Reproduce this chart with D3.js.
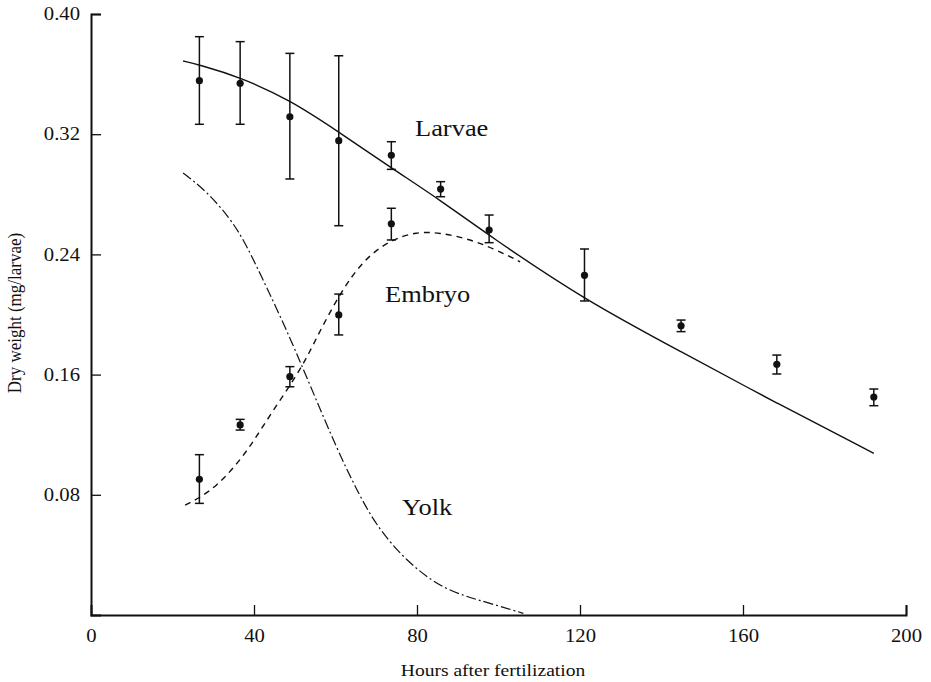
<!DOCTYPE html>
<html>
<head>
<meta charset="utf-8">
<script src="https://cdn.jsdelivr.net/npm/d3@7"></script>
<style>
  body { margin: 0; background: #fff; }
  svg text { font-family: "Liberation Serif", "Times New Roman", Tinos, serif !important; fill: #111; }
</style>
</head>
<body>
<svg width="931" height="682"></svg>
<script>
// measured points (hours after fertilization)
var hours = [26.6, 36.6, 48.8, 60.8, 73.7, 85.8, 97.7, 121.1, 144.8, 168.3, 192.1];
var larvaeMean = [0.3556, 0.3539, 0.3316, 0.3157, 0.3060, 0.2835, 0.2562, 0.2261, 0.1925, 0.1669, 0.1451];
var larvaeHigh = [0.3849, 0.3816, 0.3738, 0.3722, 0.3150, 0.2884, 0.2662, 0.2436, 0.1963, 0.1730, 0.1504];
var larvaeLow  = [0.3266, 0.3266, 0.2902, 0.2591, 0.2966, 0.2784, 0.2478, 0.2090, 0.1886, 0.1604, 0.1393];

var embryoHours = [26.6, 36.6, 48.8, 60.8, 73.7];
var embryoMean = [0.0903, 0.1265, 0.1586, 0.1997, 0.2604];
var embryoHigh = [0.1067, 0.1302, 0.1653, 0.2136, 0.2707];
var embryoLow  = [0.0743, 0.1231, 0.1519, 0.1864, 0.2496];

// fitted curves
var larvaeCurveX = [22.6, 26.6, 36.6, 48.8, 60.8, 73.7, 85.8, 97.7, 121.1, 144.8, 168.3, 192.1];
var larvaeCurveY = [0.3687, 0.3662, 0.3580, 0.3428, 0.3215, 0.2975, 0.2760, 0.2525, 0.2097, 0.1752, 0.1409, 0.1076];

var embryoCurveX = [23.1, 26.7, 30.8, 34.9, 39.0, 42.3, 46.4, 50.1, 53.3, 55.8, 61.1, 66.8, 73.4, 79.9, 85.6, 92.2, 98.7, 105.3];
var embryoCurveY = [0.0732, 0.0780, 0.0860, 0.0975, 0.1120, 0.1260, 0.1431, 0.1580, 0.1730, 0.1870, 0.2141, 0.2363, 0.2496, 0.2551, 0.2544, 0.2507, 0.2441, 0.2351];

var yolkCurveX = [22.6, 28.4, 34.1, 37.4, 41.5, 48.0, 51.3, 54.6, 60.3, 65.2, 70.1, 77.5, 85.6, 92.2, 97.9, 106.1];
var yolkCurveY = [0.2942, 0.2820, 0.2640, 0.2500, 0.2274, 0.1897, 0.1686, 0.1476, 0.1109, 0.0832, 0.0588, 0.0355, 0.0188, 0.0122, 0.0078, 0.0011];

var xTicks = [0, 40, 80, 120, 160, 200];
var yTicks = [0.08, 0.16, 0.24, 0.32, 0.40];

var svg = d3.select("svg");

var x = d3.scaleLinear().domain([0, 200]).range([91, 906]),
    y = d3.scaleLinear().domain([0, 0.40]).range([615, 14]);

var stretch = 1.15; // the scanned figure is a bit wider than tall
var serif = '"Liberation Serif", "Times New Roman", Tinos, serif';

// axes, ticks point inward
var xAxis = svg.append("g")
    .attr("transform", "translate(0,615)")
    .call(d3.axisBottom(x).tickValues(xTicks).tickSize(-10).tickPadding(14).tickFormat(d3.format("d")));
xAxis.selectAll(".tick line").attr("display", function(d) { return d === 0 ? "none" : null; });

var yAxis = svg.append("g")
    .attr("transform", "translate(91,0)")
    .call(d3.axisLeft(y).tickValues(yTicks).tickSize(-10).tickPadding(11).tickFormat(d3.format(".2f")));

svg.selectAll("g").attr("font-family", serif);
svg.selectAll(".domain").attr("stroke", "#111").attr("stroke-width", 2);
svg.selectAll(".tick line").attr("stroke", "#111").attr("stroke-width", 1.3);
svg.selectAll(".tick text")
    .attr("font-family", serif)
    .attr("font-size", 18)
    .attr("fill", "#111")
    .attr("transform", "scale(" + stretch + ",1)");
// keep left labels right-aligned after stretching
yAxis.selectAll(".tick text").attr("x", -11 / stretch);

// curves
function pairs(xs, ys) { return xs.map(function(d, i) { return [d, ys[i]]; }); }
var line = d3.line()
    .x(function(d) { return x(d[0]); })
    .y(function(d) { return y(d[1]); })
    .curve(d3.curveBasis);

svg.append("path")
    .datum(pairs(larvaeCurveX, larvaeCurveY))
    .attr("d", line)
    .attr("fill", "none").attr("stroke", "#111").attr("stroke-width", 1.4);

svg.append("path")
    .datum(pairs(embryoCurveX, embryoCurveY))
    .attr("d", line)
    .attr("fill", "none").attr("stroke", "#111").attr("stroke-width", 1.4)
    .attr("stroke-dasharray", "6,5");

svg.append("path")
    .datum(pairs(yolkCurveX, yolkCurveY))
    .attr("d", line)
    .attr("fill", "none").attr("stroke", "#111").attr("stroke-width", 1.2)
    .attr("stroke-dasharray", "10,3,2,3");

// error bars + points
function drawSeries(xs, mean, lo, hi) {
  var g = svg.append("g");
  var bars = g.selectAll(".err").data(xs).enter().append("g").attr("class", "err");
  bars.append("line")
      .attr("x1", function(d) { return x(d); }).attr("x2", function(d) { return x(d); })
      .attr("y1", function(d, i) { return y(lo[i]); }).attr("y2", function(d, i) { return y(hi[i]); })
      .attr("stroke", "#111").attr("stroke-width", 1.5);
  [lo, hi].forEach(function(arr) {
    bars.append("line")
        .attr("x1", function(d) { return x(d) - 4.5; }).attr("x2", function(d) { return x(d) + 4.5; })
        .attr("y1", function(d, i) { return y(arr[i]); }).attr("y2", function(d, i) { return y(arr[i]); })
        .attr("stroke", "#111").attr("stroke-width", 1.5);
  });
  g.selectAll(".pt").data(xs).enter().append("circle")
      .attr("class", "pt")
      .attr("cx", function(d) { return x(d); })
      .attr("cy", function(d, i) { return y(mean[i]); })
      .attr("r", 3.6)
      .attr("fill", "#111");
}
drawSeries(hours, larvaeMean, larvaeLow, larvaeHigh);
drawSeries(embryoHours, embryoMean, embryoLow, embryoHigh);

// labels
function label(txt, px, py, size, anchor) {
  svg.append("text")
      .attr("transform", "translate(" + px + "," + py + ") scale(" + stretch + ",1)")
      .attr("text-anchor", anchor || "start")
      .attr("font-family", serif)
      .attr("font-size", size)
      .text(txt);
}
label("Larvae", 415, 136, 23);
label("Embryo", 385, 302, 23);
label("Yolk", 402, 515, 23);
label("Hours after fertilization", 493, 676, 17, "middle");

svg.append("text")
    .attr("transform", "translate(21,313) rotate(-90) scale(1," + stretch + ")")
    .attr("text-anchor", "middle")
    .attr("font-family", serif)
    .attr("font-size", 17)
    .text("Dry weight (mg/larvae)");
</script>
</body>
</html>
